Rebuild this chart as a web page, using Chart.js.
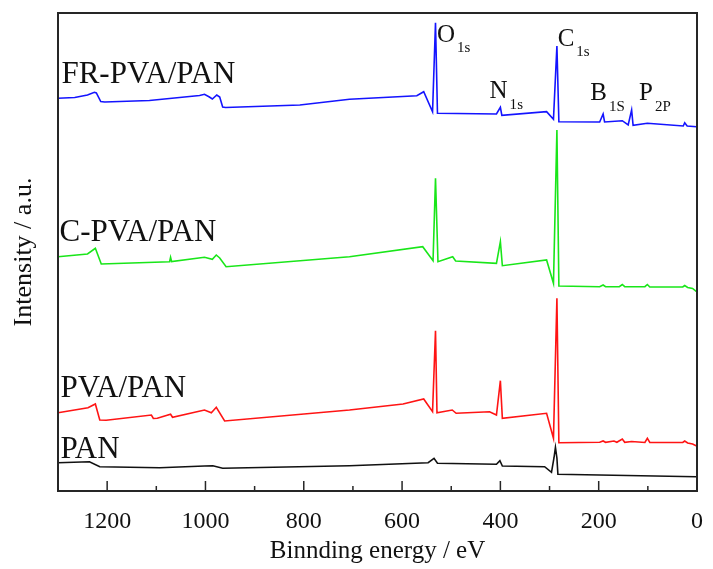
<!DOCTYPE html>
<html>
<head>
<meta charset="utf-8">
<script src="https://cdn.jsdelivr.net/npm/chart.js@4/dist/chart.umd.min.js"></script>
<style>
  html, body { margin: 0; padding: 0; background: #fff; overflow: hidden; }
  #wrap { position: relative; width: 713px; height: 569px; }
</style>
</head>
<body>
<div id="wrap"><canvas id="xps"></canvas></div>
<script>
// XPS survey spectra, binding energy (eV) vs intensity (a.u., stacked offsets)
const frEnergy = [1300, 1266, 1240, 1226, 1222, 1213, 1205, 1114, 1012, 1002, 992, 986, 977, 971, 965, 959, 808, 707,
  570, 556, 538, 532, 528, 408, 400, 397, 306, 292, 285, 281, 198, 191, 188, 152, 140, 133, 130, 101, 28, 25, 20, 1, 0];
const frIntensity = [392.7, 393.5, 396, 398.7, 398, 389.5, 389, 390.5, 395.5, 396.7, 394, 392, 396, 394, 384, 383.5, 386, 391.7,
  395.3, 399.3, 379.3, 468.3, 377.7, 377, 383.7, 375.7, 379.3, 371.7, 445, 369.3, 369, 377, 369, 370.3, 366, 381, 365.7, 367.7, 365, 368.3, 365, 364.3, 364.3];

const cEnergy = [1300, 1240, 1224, 1212, 1073, 1071, 1069, 1002, 986, 978, 971, 958, 707,
  558, 537, 532, 527, 497, 491, 408, 400, 396, 306, 292, 285, 281, 198, 191, 186, 158, 152, 147, 106, 101, 96, 29, 25, 19, 9, 1, 0];
const cIntensity = [234.3, 237, 242.7, 227, 229.3, 233.7, 229.5, 233.7, 231.7, 236, 233, 224.3, 234.3,
  244.3, 230.3, 312.7, 229.3, 234.3, 230, 227.7, 249.3, 225.3, 231, 207.7, 361, 205, 204.3, 206, 204.3, 204.3, 206.5, 204.3, 204.3, 206.5, 204, 204, 205.5, 203.5, 202.5, 199.3, 199];

const pvaEnergy = [1300, 1239, 1224, 1215, 1202, 1110, 1106, 1098, 1071, 1067, 1002, 988, 978, 961, 707,
  598, 556, 538, 532, 529, 498, 490, 422, 408, 400, 396, 306, 292, 285, 281, 198, 191, 186, 169, 163, 152, 147, 133, 106, 101, 96, 29, 25, 19, 9, 1, 0];
const pvaIntensity = [78.3, 83.3, 87, 71, 70.7, 76, 72.5, 72.7, 76.7, 73.7, 81, 78.3, 83.7, 70, 81,
  87, 92, 79.3, 160.3, 78.3, 81, 77.7, 79.3, 76, 110.3, 72.7, 77.7, 52.7, 192.7, 48.3, 48.7, 50, 48.7, 50, 48.7, 52, 48.7, 49.5, 48.5, 52.7, 48.5, 48.5, 50, 48, 47, 45, 45];

const panEnergy = [1300, 1236, 1215, 1093, 1002, 985, 965, 707, 547, 535, 528, 408, 401, 396, 310, 296, 291, 288, 285, 283, 1, 0];
const panIntensity = [28.3, 29.3, 24.3, 23.3, 25, 25.3, 22.7, 25.3, 28.3, 32.7, 27.7, 26.7, 30.3, 25, 24.3, 18.7, 33, 43.7, 33, 16.7, 14.3, 14.3];

const seriesNames = ['FR-PVA/PAN', 'C-PVA/PAN', 'PVA/PAN', 'PAN'];
const seriesColors = ['#1414ff', '#19e619', '#ff1414', '#111111'];

// peak annotations: [main letter, subscript, energy, intensity]
const peakLabels = [
  ['O', '1s', 529, 449.3],
  ['N', '1s', 422, 392.7],
  ['C', '1s', 283.5, 445.3],
  ['B', '1S', 217, 391],
  ['P', '2P', 118, 391]
];
// series name anchors: [energy, intensity]
const nameAnchors = [[1293, 407.7], [1297, 250.3], [1295, 94.3], [1295, 33.3]];

const xTicks = [1200, 1000, 800, 600, 400, 200, 0];

const toPoints = (xs, ys) => xs.map((x, i) => ({ x: x, y: ys[i] }));
const allData = [
  toPoints(frEnergy, frIntensity),
  toPoints(cEnergy, cIntensity),
  toPoints(pvaEnergy, pvaIntensity),
  toPoints(panEnergy, panIntensity)
];

const serif = "'Liberation Serif', 'Times New Roman', serif";

const decorPlugin = {
  id: 'decor',
  afterDraw(chart) {
    const { ctx, chartArea: a, scales: { x, y } } = chart;
    ctx.save();
    // frame
    ctx.strokeStyle = '#262626';
    ctx.lineWidth = 2;
    ctx.strokeRect(a.left, a.top, a.right - a.left, a.bottom - a.top);
    // inward ticks along the bottom
    ctx.lineWidth = 1.5;
    x.ticks.forEach(t => {
      const px = x.getPixelForValue(t.value);
      const len = t.value % 200 === 0 ? 10 : 5;
      ctx.beginPath();
      ctx.moveTo(px, a.bottom);
      ctx.lineTo(px, a.bottom - len);
      ctx.stroke();
    });
    // peak labels
    ctx.fillStyle = '#111';
    ctx.textBaseline = 'alphabetic';
    ctx.textAlign = 'left';
    peakLabels.forEach(([main, sub, e, v]) => {
      const px = x.getPixelForValue(e);
      const py = y.getPixelForValue(v);
      ctx.font = '25px ' + serif;
      const w = ctx.measureText(main).width;
      ctx.fillText(main, px, py);
      ctx.font = '15px ' + serif;
      ctx.fillText(sub, px + w + 2, py + 10.5);
    });
    // series names
    ctx.font = '31px ' + serif;
    seriesNames.forEach((name, i) => {
      const [e, v] = nameAnchors[i];
      ctx.fillText(name, x.getPixelForValue(e), y.getPixelForValue(v));
    });
    ctx.restore();
  }
};

new Chart(document.getElementById('xps'), {
  type: 'line',
  data: {
    datasets: seriesNames.map((name, i) => ({
      label: name,
      data: allData[i],
      borderColor: seriesColors[i],
      borderWidth: 1.6,
      pointRadius: 0,
      tension: 0,
      fill: false
    }))
  },
  options: {
    responsive: true,
    maintainAspectRatio: false,
    animation: false,
    layout: { padding: { top: 13, right: 16, left: 0, bottom: 0 } },
    plugins: { legend: { display: false }, tooltip: { enabled: false } },
    scales: {
      x: {
        type: 'linear',
        reverse: true,
        min: 0,
        max: 1300,
        border: { display: false },
        grid: { display: false, drawTicks: false },
        afterFit: s => { s.height = 78; s.paddingLeft = 0; s.paddingRight = 0; },
        ticks: {
          stepSize: 100,
          padding: 16.4,
          maxRotation: 0,
          autoSkip: false,
          color: '#111',
          font: { family: serif, size: 24 },
          callback: v => xTicks.includes(v) ? String(v) : ''
        },
        title: {
          display: true,
          text: 'Binnding energy / eV',
          color: '#111',
          font: { family: serif, size: 25 },
          padding: { top: 0.8, bottom: 3 }
        }
      },
      y: {
        min: 0,
        max: 478,
        border: { display: false },
        grid: { display: false, drawTicks: false },
        afterFit: s => { s.width = 58; s.paddingTop = 0; s.paddingBottom = 0; },
        ticks: { display: false },
        title: {
          display: true,
          text: 'Intensity / a.u.',
          color: '#111',
          font: { family: serif, size: 26 },
          padding: { top: 8.6, bottom: 18.2 }
        }
      }
    }
  },
  plugins: [decorPlugin]
});
</script>
</body>
</html>
